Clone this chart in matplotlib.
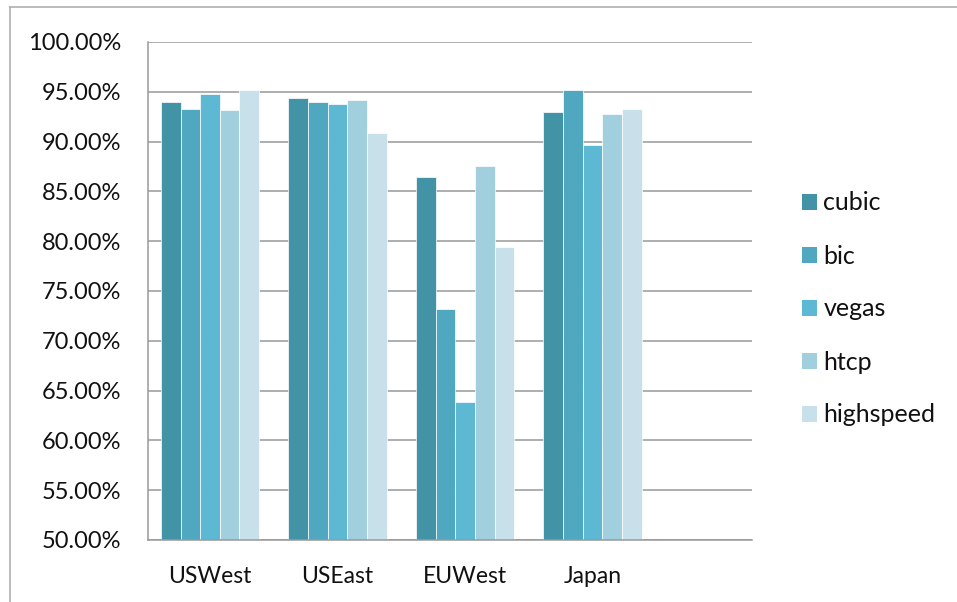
import numpy as np
import matplotlib.pyplot as plt
from matplotlib.lines import Line2D
from matplotlib.patches import Patch

regions = ["USWest", "USEast", "EUWest", "Japan"]
series = ["cubic", "bic", "vegas", "htcp", "highspeed"]
colors = ["#4393A6", "#50A8C0", "#5DB9D3", "#A2CFDE", "#C7E0EA"]

# success rate (%) per region, one list per congestion control algorithm
cubic = [93.97, 94.33, 86.47, 92.97]
bic = [93.30, 93.97, 73.23, 95.20]
vegas = [94.80, 93.80, 63.87, 89.63]
htcp = [93.13, 94.17, 87.50, 92.73]
highspeed = [95.17, 90.83, 79.43, 93.30]
values = [cubic, bic, vegas, htcp, highspeed]

plt.rcParams['font.family'] = ['Lato', 'DejaVu Sans']

W, H = 957, 602
fig = plt.figure(figsize=(W / 100, H / 100), dpi=100)
ax = fig.add_axes([148 / W, 1 - 540 / H, 604 / W, 498 / H])

x = np.arange(len(regions))
bw = 0.154
for i, (name, vals) in enumerate(zip(series, values)):
    ax.bar(x + (i - 2) * bw, vals, width=bw, color=colors[i],
           edgecolor="white", linewidth=0.5, label=name, zorder=2)

ax.set_ylim(50, 100)
ax.set_xlim(-0.486, 4.25)
ax.set_yticks(np.arange(50, 100.1, 5))
ax.set_yticklabels([f"{v:.2f}%" for v in np.arange(50, 100.1, 5)])
ax.set_xticks(x)
ax.set_xticklabels(regions)
ax.tick_params(axis='both', length=0, colors="#111111")
ax.tick_params(axis='y', pad=19, labelsize=17)
ax.tick_params(axis='x', pad=19, labelsize=16.5)

ax.yaxis.grid(True, color="#999999", linewidth=1.1, zorder=0)
ax.set_axisbelow(True)
for side in ("top", "right"):
    ax.spines[side].set_visible(False)
for side in ("left", "bottom"):
    ax.spines[side].set_color("#999999")
    ax.spines[side].set_linewidth(1.1)

handles = [Patch(facecolor=c, edgecolor="none") for c in colors]
fig.legend(handles, series, loc="center left",
           bbox_to_anchor=(802 / W, 1 - 309 / H), frameon=False,
           fontsize=18, handlelength=0.6, handleheight=0.6,
           handletextpad=0.25, labelspacing=1.2, borderpad=0,
           borderaxespad=0, labelcolor="#111111")

# outer chart frame (top and left edges)
frame = "#aaaaaa"
fig.add_artist(Line2D([10 / W, 1], [1 - 7 / H, 1 - 7 / H], color=frame, linewidth=1.1))
fig.add_artist(Line2D([10 / W, 10 / W], [0, 1 - 7 / H], color=frame, linewidth=1.1))

fig.savefig("out.png", dpi=100)
